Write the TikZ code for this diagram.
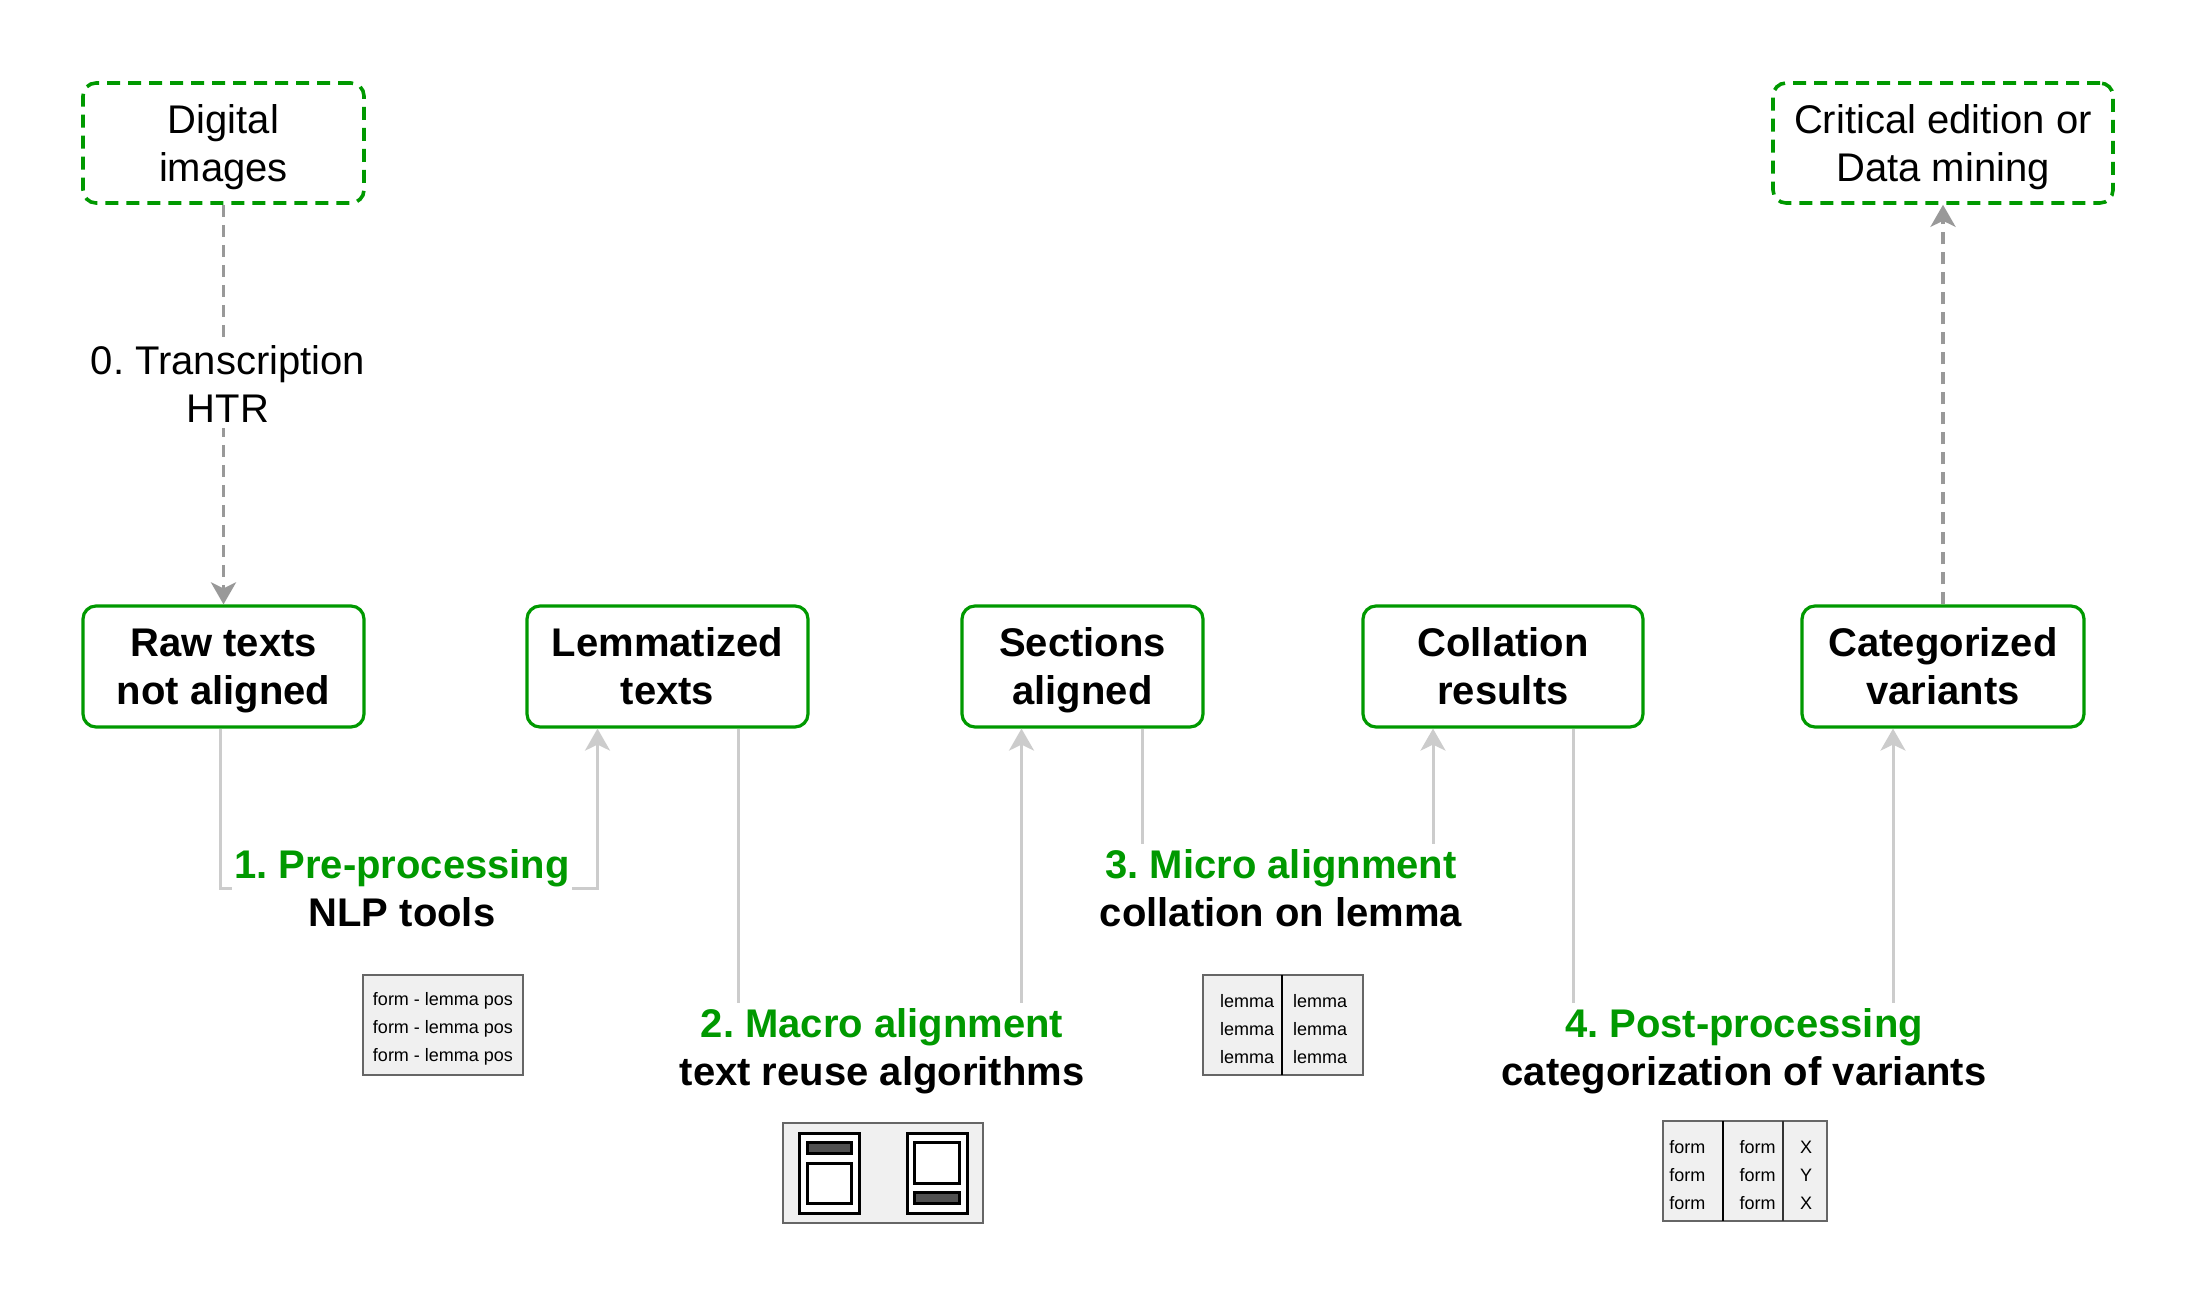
\documentclass[tikz,border=0pt]{standalone}
\usepackage{fontspec}
\setmainfont{Liberation Sans}
\usetikzlibrary{arrows.meta,calc}
\frenchspacing
\definecolor{grn}{HTML}{009900}
\definecolor{lgray}{HTML}{CCCCCC}
\definecolor{dgray}{HTML}{999999}
\definecolor{boxfill}{HTML}{F0F0F0}
\definecolor{boxline}{HTML}{666666}
\definecolor{barfill}{HTML}{505050}
\begin{document}
\begin{tikzpicture}[x=0.5pt,y=-0.5pt,
  stage/.style={draw=grn,line width=1.6pt,rounded corners=6.5pt,fill=white,
    minimum height=60.5pt,align=center,inner sep=0pt,text depth=0pt,
    font=\fontsize{20}{24}\selectfont\bfseries},
  endpt/.style={draw=grn,line width=1.8pt,dash pattern=on 6.5pt off 4pt,rounded corners=6.5pt,
    fill=white,minimum height=60pt,align=center,inner sep=0pt,text depth=0pt,
    font=\fontsize{20}{24}\selectfont},
  conn/.style={draw=lgray,line width=1.5pt,-{Stealth[length=11pt,width=12.5pt,inset=3pt]}},
  dconn/.style={draw=dgray,line width=1.8pt,dash pattern=on 6pt off 4pt,
    -{Stealth[length=11pt,width=12.5pt,inset=3pt]}},
  steplabel/.style={fill=white,align=center,inner xsep=1pt,inner ysep=3pt,text depth=0pt,
    font=\fontsize{20}{24}\selectfont\bfseries\frenchspacing},
  plainlabel/.style={fill=white,align=center,inner xsep=1pt,inner ysep=3pt,text depth=0pt,
    font=\fontsize{20}{24}\selectfont\frenchspacing},
  sbox/.style={draw=boxline,line width=1pt,fill=boxfill,inner sep=0pt},
  stext/.style={inner sep=0pt,font=\fontsize{9}{14}\selectfont},
  icon/.style={draw=black,line width=1.5pt},
]
\useasboundingbox (0,0) rectangle (2196,1304);
\fill[white] (0,0) rectangle (2196,1304);

% stage nodes
\node[endpt,minimum width=140.5pt] (dig) at (223.5,143) {Digital\\images};
\node[endpt,minimum width=170pt] (crit) at (1943,143) {Critical edition or\\Data mining};
\node[stage,minimum width=140.5pt] (raw) at (223.5,666.5) {Raw texts\\not aligned};
\node[stage,minimum width=140.5pt] (lem) at (667.5,666.5) {Lemmatized\\texts};
\node[stage,minimum width=120.5pt] (sec) at (1082.5,666.5) {Sections\\aligned};
\node[stage,minimum width=140pt] (col) at (1503,666.5) {Collation\\results};
\node[stage,minimum width=141pt] (cat) at (1943,666.5) {Categorized\\variants};

% label anchor points
\coordinate (l0) at (228,384);
\coordinate (l1) at (402,888);
\coordinate (l2) at (882,1047);
\coordinate (l3) at (1281,888);
\coordinate (l4) at (1744,1047);

% connectors
\draw[dconn] (dig.south) -- (raw.north);
\draw[dconn] (cat.north) -- (crit.south);

\coordinate (a1) at ([xshift=-1.5pt]raw.south);
\coordinate (b1) at ([xshift=-35pt]lem.south);
\draw[conn] (a1) -- (a1 |- l1) -- (l1 -| b1) -- (b1);

\coordinate (a2) at ([xshift=35.5pt]lem.south);
\coordinate (b2) at ([xshift=-30.5pt]sec.south);
\draw[conn] (a2) -- (a2 |- l2) -- (l2 -| b2) -- (b2);

\coordinate (a3) at ([xshift=30pt]sec.south);
\coordinate (b3) at ([xshift=-35pt]col.south);
\draw[conn] (a3) -- (a3 |- l3) -- (l3 -| b3) -- (b3);

\coordinate (a4) at ([xshift=35pt]col.south);
\coordinate (b4) at ([xshift=-25pt]cat.south);
\draw[conn] (a4) -- (a4 |- l4) -- (l4 -| b4) -- (b4);

% labels
\node[plainlabel] (lab0) at (l0) {0. Transcription\\HTR};
\node[steplabel] (lab1) at (l1) {{\color{grn}1. Pre-processing}\\NLP tools};
\node[steplabel] (lab2) at (l2) {{\color{grn}2. Macro alignment}\\text reuse algorithms};
\node[steplabel] (lab3) at (l3) {{\color{grn}3. Micro alignment}\\collation on lemma};
\node[steplabel] (lab4) at (l4) {{\color{grn}4. Post-processing}\\categorization of variants};

% box 1: form - lemma pos
\node[sbox,minimum width=80pt,minimum height=50pt] (box1) at (443,1025) {};
\node[stext,align=center] (box1t) at (443,1029) {form - lemma pos\\form - lemma pos\\form - lemma pos};

% box 2: page icons
\node[sbox,minimum width=100pt,minimum height=50pt] (box2) at (883,1173) {};
\draw[icon,fill=white] (799,1133) rectangle (859,1213);
\draw[icon,fill=barfill] (807,1142) rectangle (851,1153);
\draw[icon,fill=white] (807,1163) rectangle (851,1203);
\draw[icon,fill=white] (907,1133) rectangle (967,1213);
\draw[icon,fill=white] (914,1142) rectangle (959,1183);
\draw[icon,fill=barfill] (914,1192) rectangle (959,1203);

% box 3: lemma columns
\node[sbox,minimum width=80pt,minimum height=50pt] (box3) at (1283,1025) {};
\draw[black,line width=1pt] (1282,975) -- (1282,1075);
\node[stext,align=center] (box3a) at (1247,1029) {lemma\\lemma\\lemma};
\node[stext,align=center] (box3b) at (1320,1029) {lemma\\lemma\\lemma};

% box 4: form / form / category
\node[sbox,minimum width=82pt,minimum height=50pt] (box4) at (1745,1171) {};
\draw[black,line width=1pt] (1723,1121) -- (1723,1221);
\draw[black!80,line width=1pt] (1783,1121) -- (1783,1221);
\node[stext,align=left,anchor=west] (box4a) at (1669,1175) {form\\form\\form};
\node[stext,align=right,anchor=east] (box4b) at (1776,1175) {form\\form\\form};
\node[stext,align=center] (box4c) at (1806,1175) {X\\Y\\X};
\end{tikzpicture}
\end{document}
